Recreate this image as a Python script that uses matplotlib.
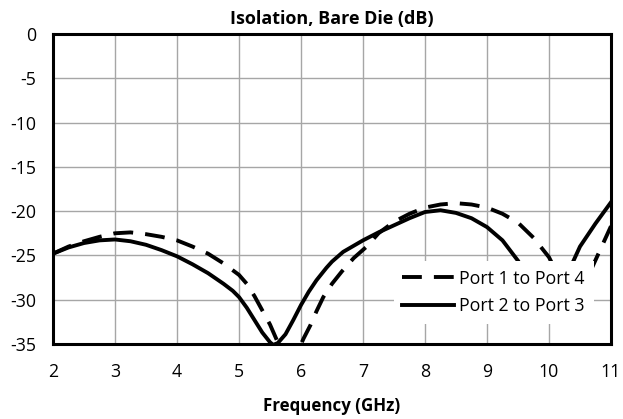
import matplotlib.pyplot as plt

plt.rcParams['font.family'] = ['Open Sans', 'DejaVu Sans']
plt.rcParams['axes.unicode_minus'] = False

# Frequency (GHz) and isolation (dB)
freq_14 = [2.0, 2.25, 2.5, 2.75, 3.0, 3.25, 3.5, 3.75, 4.0, 4.25, 4.5, 4.75, 5.0, 5.125, 5.25,
           5.375, 5.5, 5.625, 5.75, 5.85, 5.95, 6.04, 6.15, 6.25, 6.36, 6.5, 6.66, 6.85, 7.06, 7.25,
           7.5, 7.75, 8.0, 8.25, 8.5, 8.75, 9.0, 9.25, 9.5, 9.75, 10.0, 10.2, 10.4, 10.55, 10.7,
           10.85, 11.0]
iso_14 = [-24.8, -24.0, -23.4, -22.9, -22.5, -22.4, -22.6, -22.9, -23.3, -24.0, -24.8, -25.9, -27.2, -28.2, -29.6,
          -31.2, -32.8, -34.8, -36.3, -36.6, -35.8, -34.4, -32.9, -31.3, -29.7, -28.2, -26.8, -25.3, -24.0, -22.5,
          -21.2, -20.3, -19.6, -19.25, -19.1, -19.25, -19.6, -20.3, -21.3, -23.0, -25.2, -28.0, -30.0, -29.0, -26.3,
          -24.0, -21.7]

freq_23 = [2.0, 2.25, 2.5, 2.75, 3.0, 3.25, 3.5, 3.75, 4.0, 4.25, 4.5, 4.75, 4.9, 5.0, 5.125,
           5.25, 5.375, 5.5, 5.55, 5.625, 5.75, 5.875, 6.0, 6.125, 6.25, 6.41, 6.5, 6.68, 7.0, 7.25,
           7.5, 7.75, 8.0, 8.25, 8.5, 8.75, 9.0, 9.25, 9.5, 9.75, 10.0, 10.1, 10.2, 10.35, 10.5,
           10.75, 11.0]
iso_23 = [-24.8, -24.1, -23.6, -23.3, -23.2, -23.4, -23.8, -24.4, -25.1, -26.0, -27.0, -28.2, -29.0, -29.7, -30.9,
          -32.3, -33.7, -34.8, -35.1, -34.9, -33.9, -32.3, -30.6, -29.1, -27.8, -26.4, -25.7, -24.6, -23.3, -22.4,
          -21.6, -20.8, -20.1, -19.9, -20.2, -20.8, -21.8, -23.3, -25.6, -28.6, -31.0, -31.5, -30.0, -26.3, -24.0,
          -21.4, -19.0]

fig = plt.figure(figsize=(6.23, 4.19), dpi=100)
ax = fig.add_axes([0.0851, 0.179, 0.8956, 0.7399])

ax.plot(freq_14, iso_14, color='black', lw=2.8, linestyle=(0, (5.1, 3.1)), label='Port 1 to Port 4')
ax.plot(freq_23, iso_23, color='black', lw=2.8, linestyle='-', label='Port 2 to Port 3')

ax.set_xlim(2, 11)
ax.set_ylim(-35, 0)
ax.set_xticks(range(2, 12))
ax.set_yticks(range(-35, 1, 5))
ax.grid(True, color='#a6a6a6', lw=1.0)
ax.set_axisbelow(True)
ax.tick_params(length=0, labelsize=12.8)
ax.tick_params(axis='x', pad=14)
ax.tick_params(axis='y', pad=12)
for s in ax.spines.values():
    s.set_linewidth(2.2)
    s.set_color('black')

ax.set_title('Isolation, Bare Die (dB)', fontsize=13, fontweight='bold', pad=7)
ax.set_xlabel('Frequency (GHz)', fontsize=12.2, fontweight='bold', labelpad=11)

leg = ax.legend(loc='lower right', fontsize=12.8, frameon=True, fancybox=False,
                framealpha=1, facecolor='white', edgecolor='none',
                handlelength=2.9, handletextpad=0.3, borderpad=0.5,
                labelspacing=0.55, bbox_to_anchor=(0.985, 0.035))

fig.savefig('out.png', dpi=100)
